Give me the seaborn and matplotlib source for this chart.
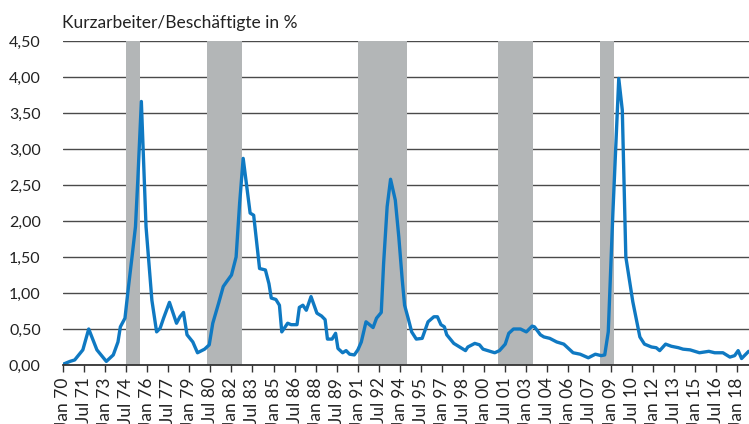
import pandas as pd
import numpy as np
import matplotlib.pyplot as plt
import matplotlib.ticker as mticker
import seaborn as sns

# Kurzarbeiter / Beschäftigte in %
dates = [
    "1970-01", "1970-07", "1970-11", "1971-06", "1971-11", "1972-06", "1973-02", "1973-08",
    "1973-12", "1974-02", "1974-06", "1974-09", "1974-12", "1975-03", "1975-05", "1975-08",
    "1975-12", "1976-03", "1976-05", "1976-09", "1976-12", "1977-03", "1977-08", "1978-02",
    "1978-05", "1978-08", "1978-11", "1979-04", "1979-08", "1980-02", "1980-06", "1980-09",
    "1981-02", "1981-06", "1981-09", "1982-01", "1982-05", "1982-08", "1982-11", "1983-05",
    "1983-08", "1983-11", "1984-01", "1984-06", "1984-09", "1984-11", "1985-03", "1985-06",
    "1985-08", "1986-01", "1986-04", "1986-09", "1986-11", "1987-02", "1987-05", "1987-09",
    "1988-02", "1988-06", "1988-09", "1988-11", "1989-03", "1989-06", "1989-08", "1989-12",
    "1990-03", "1990-06", "1990-10", "1991-01", "1991-04", "1991-08", "1992-02", "1992-05",
    "1992-09", "1992-11", "1993-02", "1993-05", "1993-09", "1993-12", "1994-03", "1994-05",
    "1994-08", "1994-11", "1995-03", "1995-08", "1996-01", "1996-06", "1996-09", "1996-12",
    "1997-03", "1997-05", "1997-11", "1998-04", "1998-09", "1998-11", "1999-05", "1999-09",
    "1999-12", "2000-06", "2000-10", "2001-02", "2001-07", "2001-10", "2002-02", "2002-08",
    "2003-01", "2003-06", "2003-08", "2004-01", "2004-04", "2004-09", "2005-03", "2005-09",
    "2006-01", "2006-05", "2006-11", "2007-06", "2007-12", "2008-05", "2008-08", "2008-11",
    "2009-03", "2009-08", "2009-11", "2010-02", "2010-08", "2011-02", "2011-06", "2011-12",
    "2012-04", "2012-07", "2012-12", "2013-05", "2013-11", "2014-03", "2014-09", "2015-05",
    "2016-01", "2016-06", "2017-01", "2017-07", "2017-11", "2018-02", "2018-05", "2018-11",
]
quote = [
    0.01, 0.05, 0.07, 0.21, 0.50, 0.21, 0.05, 0.14,
    0.32, 0.53, 0.65, 1.09, 1.50, 1.92, 2.57, 3.66,
    1.92, 1.32, 0.90, 0.46, 0.51, 0.65, 0.87, 0.58,
    0.67, 0.73, 0.42, 0.32, 0.17, 0.22, 0.28, 0.58,
    0.86, 1.09, 1.16, 1.25, 1.50, 2.25, 2.87, 2.11,
    2.08, 1.64, 1.34, 1.32, 1.13, 0.93, 0.91, 0.83,
    0.46, 0.58, 0.56, 0.56, 0.80, 0.83, 0.76, 0.95,
    0.72, 0.68, 0.63, 0.36, 0.36, 0.44, 0.23, 0.17,
    0.20, 0.15, 0.14, 0.21, 0.32, 0.60, 0.52, 0.65,
    0.73, 1.41, 2.20, 2.58, 2.29, 1.78, 1.18, 0.83,
    0.65, 0.46, 0.36, 0.37, 0.60, 0.67, 0.67, 0.56,
    0.53, 0.42, 0.30, 0.25, 0.20, 0.25, 0.30, 0.28,
    0.22, 0.19, 0.17, 0.20, 0.29, 0.44, 0.50, 0.50,
    0.46, 0.54, 0.53, 0.42, 0.39, 0.37, 0.32, 0.29,
    0.23, 0.17, 0.15, 0.10, 0.15, 0.13, 0.14, 0.46,
    2.11, 3.98, 3.54, 1.50, 0.88, 0.39, 0.29, 0.25,
    0.24, 0.20, 0.29, 0.26, 0.24, 0.22, 0.21, 0.17,
    0.19, 0.17, 0.17, 0.11, 0.13, 0.20, 0.09, 0.19,
]

# Rezessionsphasen (graue Balken)
rez_start = ["1974-07", "1980-04", "1991-01", "2001-01", "2008-04"]
rez_ende = ["1975-07", "1982-10", "1994-07", "2003-07", "2009-04"]

df = pd.DataFrame({"datum": pd.to_datetime(dates), "quote": quote})

sns.set_style("white")
plt.rcParams["font.family"] = ["Lato", "DejaVu Sans"]

fig = plt.figure(figsize=(7.49, 4.24), dpi=100)
ax = fig.add_axes([63 / 749, 59 / 424, 1 - 63 / 749, 324 / 424])

for s, e in zip(rez_start, rez_ende):
    ax.axvspan(pd.Timestamp(s), pd.Timestamp(e), color="#b3b6b7", lw=0, zorder=2)

sns.lineplot(data=df, x="datum", y="quote", color="#0f79c2", lw=2.4, ax=ax, zorder=3)

ax.set_xlim(pd.Timestamp("1970-01-01"), pd.Timestamp("2018-11-10"))
ax.set_ylim(0, 4.5)
ax.yaxis.set_major_locator(mticker.MultipleLocator(0.5))
ax.yaxis.set_major_formatter(mticker.FuncFormatter(lambda v, p: f"{v:.2f}".replace(".", ",")))
ax.grid(axis="y", color="#4a4a4a", lw=1, zorder=1)
ax.grid(axis="x", visible=False)

ticks = pd.date_range("1970-01-01", "2018-01-01", freq="18MS")
ax.set_xticks(ticks)
ax.set_xticklabels([t.strftime("%b %y") for t in ticks],
                   rotation=90, fontsize=12.5, color="#222222")
ax.tick_params(axis="x", length=5, width=1, color="#333333", pad=4, bottom=True)
ax.tick_params(axis="y", length=0, pad=16, labelsize=11.5, labelcolor="#222222")

for side in ["left", "right", "top"]:
    ax.spines[side].set_visible(False)
ax.spines["bottom"].set_color("#333333")
ax.spines["bottom"].set_linewidth(1.3)
ax.spines["bottom"].set_zorder(4)
ax.set_xlabel("")
ax.set_ylabel("")

fig.text(62 / 749, 1 - 31 / 424, "Kurzarbeiter/Beschäftigte in %", fontsize=12.5,
         color="#222222", ha="left", va="bottom")

fig.savefig("out.png", dpi=100)
